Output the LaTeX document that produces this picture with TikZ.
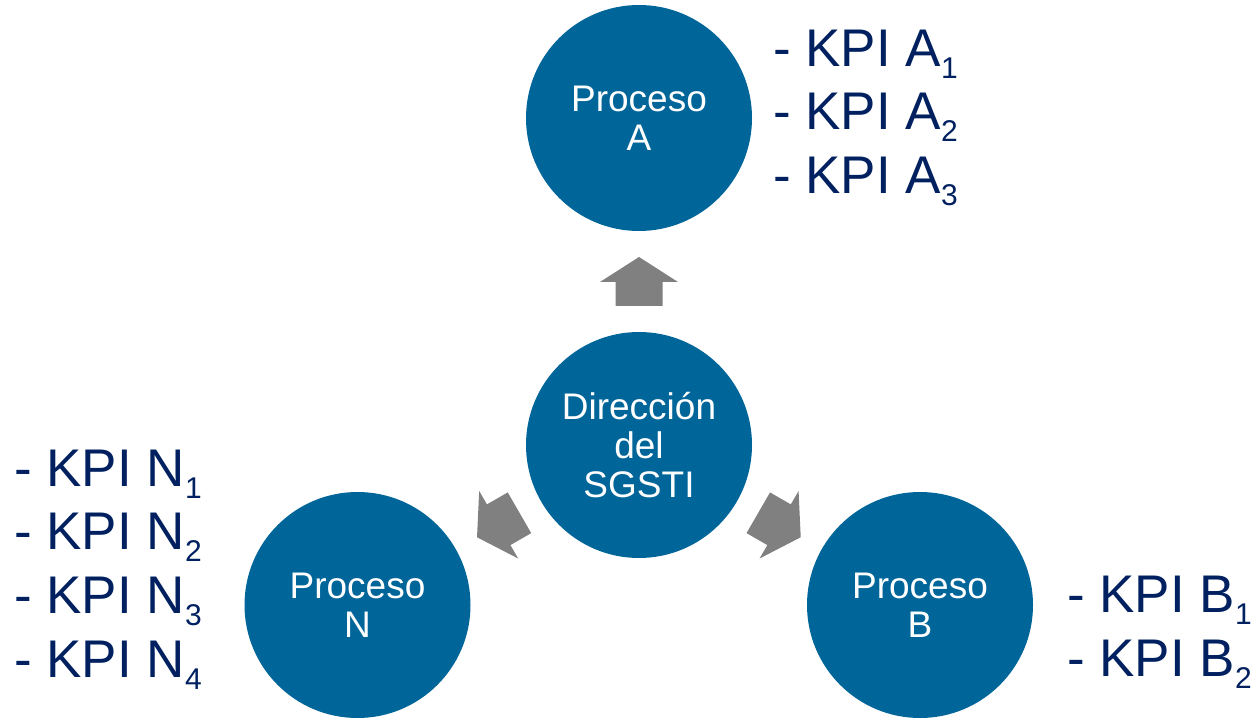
\documentclass[tikz,border=0pt]{standalone}
\usepackage{fontspec}
\setmainfont{Liberation Sans}
\usetikzlibrary{calc}

\definecolor{procblue}{RGB}{0,101,153}
\definecolor{kpinavy}{RGB}{0,32,96}
\definecolor{arrowgray}{RGB}{128,128,128}

% lowered, smaller index digit after a KPI letter
\newcommand\kpiidx[1]{\raisebox{-12pt}{\fontsize{30}{30}\selectfont #1}}

\tikzset{
  process/.style={circle, fill=procblue, minimum size=226pt, inner sep=0pt,
    text=white, align=center, font=\fontsize{37}{39}\selectfont},
  kpi/.style={inner sep=0pt, anchor=base west, text=kpinavy,
    font=\fontsize{53}{64}\selectfont},
  % thick block arrow pointing up, centred on its own origin
  blockarrow/.pic={
    \fill[arrowgray] (0,-24.5) -- (39,0.5) -- (23.5,0.5) -- (23.5,24.5)
      -- (-23.5,24.5) -- (-23.5,0.5) -- (-39,0.5) -- cycle;
  }
}

\begin{document}
\begin{tikzpicture}[x=1pt, y=-1pt]
  \useasboundingbox (0,0) rectangle (1258,719);

  % circles
  \node[process] (dir) at (639,445) {Dirección\\del\\SGSTI};
  \node[process] (pa) at (639,118) {Proceso\\A};
  \node[process] (pn) at (357.5,605) {Proceso\\N};
  \node[process] (pb) at (920,605) {Proceso\\B};

  % block arrows from the central circle to each process
  \pic at ($(dir)!0.5!(pa)$) {blockarrow};
  \pic[rotate=120] at ($(dir)!0.5!(pn)$) {blockarrow};
  \pic[rotate=-120] at ($(dir)!0.5!(pb)$) {blockarrow};

  % KPI lists
  \node[kpi] (ka1) at (773,67)  {- KPI A\kpiidx{1}};
  \node[kpi] (ka2) at (773,130) {- KPI A\kpiidx{2}};
  \node[kpi] (ka3) at (773,194) {- KPI A\kpiidx{3}};

  \node[kpi] (kn1) at (14,486) {- KPI N\kpiidx{1}};
  \node[kpi] (kn2) at (14,549) {- KPI N\kpiidx{2}};
  \node[kpi] (kn3) at (14,613) {- KPI N\kpiidx{3}};
  \node[kpi] (kn4) at (14,677) {- KPI N\kpiidx{4}};

  \node[kpi] (kb1) at (1067,612) {- KPI B\kpiidx{1}};
  \node[kpi] (kb2) at (1067,676) {- KPI B\kpiidx{2}};
\end{tikzpicture}
\end{document}
